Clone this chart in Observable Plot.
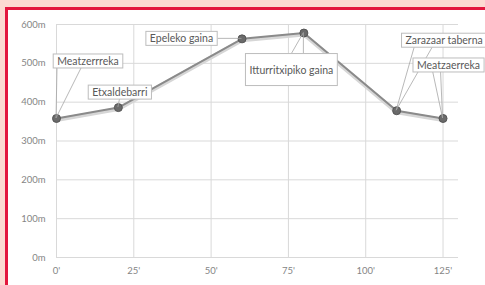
<!DOCTYPE html>
<html><head><meta charset="utf-8">
<script src="https://cdn.jsdelivr.net/npm/d3@7"></script>
<script src="https://cdn.jsdelivr.net/npm/@observablehq/plot@0.6"></script>
<style>
html,body{margin:0;padding:0;background:#fcdad2;}
#wrap{position:relative;width:485px;height:285px;overflow:hidden;background:#fcdad2;}
#panel{position:absolute;left:5px;top:7px;right:-10px;bottom:-10px;background:#fff;border-left:3px solid #e3173e;border-top:3px solid #e3173e;}
#chart{position:absolute;left:0;top:0;}
</style></head>
<body>
<div id="wrap"><div id="panel"></div><div id="chart"></div></div>
<script>
const places = ["Meatzerrreka","Etxaldebarri","Epeleko gaina","Itturritxipiko gaina","Zarazaar taberna","Meatzaerreka"];
const minutes = [0, 20, 60, 80, 110, 125];
const altitude = [358, 386, 563, 578, 378, 358];
const xTicks = [0, 25, 50, 75, 100, 125];
const yTicks = [0, 100, 200, 300, 400, 500, 600];

const data = places.map((p, i) => ({place: p, x: minutes[i], y: altitude[i]}));

// label layout: box centre offset from point (px), leader attach points relative to box centre
const layout = [
  {dx: 32, dy: -57, leads: [[-31, 7], [-7, 7]]},
  {dx: 2, dy: -15, leads: [[0, 5]]},
  {dx: -60, dy: 0, leads: [[36, 0]]},
  {dx: -12, dy: 37, leads: [[0, -16], [12, -16]]},
  {dx: 48, dy: -70, leads: [[-30, 7], [-12, 7]]},
  {dx: 6, dy: -53, leads: [[-16, 6], [-8, 6]]}
];

const chart = Plot.plot({
  width: 485, height: 285,
  marginLeft: 56, marginRight: 27, marginTop: 24, marginBottom: 28,
  style: {background: "transparent", fontFamily: "Lato, sans-serif"},
  x: {domain: [0, 130], ticks: xTicks, tickFormat: d => d + "'"},
  y: {domain: [0, 600], ticks: yTicks, tickFormat: d => d + "m"},
  marks: [
    Plot.ruleY(yTicks, {stroke: "#d9d9d9", strokeWidth: 1}),
    Plot.ruleX(xTicks.concat([0]), {y1: 0, y2: 600, stroke: "#d9d9d9", strokeWidth: 1}),
    Plot.axisX({ticks: xTicks, tickSize: 0, tickPadding: 10, fontSize: 9.5, fill: "#858585", tickFormat: d => d + "'", label: null}),
    Plot.axisY({ticks: yTicks, tickSize: 0, tickPadding: 11, fontSize: 9.5, fill: "#858585", tickFormat: d => d + "m", label: null}),
    Plot.line(data, {x: "x", y: "y", stroke: "#d6d6d6", strokeWidth: 4, dy: 1.5}),
    Plot.line(data, {x: "x", y: "y", stroke: "#8a8a8a", strokeWidth: 2}),
    Plot.dot(data, {x: "x", y: "y", r: 4, fill: "#6a6a6a", stroke: "#555", strokeWidth: 1})
  ]
});
document.getElementById("chart").appendChild(chart);

const sx = chart.scale("x"), sy = chart.scale("y");
const svg = d3.select(chart);
const g = svg.append("g");
data.forEach((d, i) => {
  const px = sx.apply(d.x), py = sy.apply(d.y);
  const L = layout[i];
  const cx = px + L.dx, cy = py + L.dy;
  const lg = g.append("g");
  const t = lg.append("text").attr("x", cx).attr("y", cy).attr("text-anchor", "middle")
    .attr("dominant-baseline", "central").attr("font-family", "Lato, sans-serif")
    .attr("font-size", 10.5).attr("fill", "#595959").text(d.place);
  const bb = t.node().getBBox();
  const w = bb.width + 8, h = i === 3 ? 32 : 14;
  lg.insert("rect", "text").attr("x", cx - w / 2).attr("y", cy - h / 2).attr("width", w).attr("height", h)
    .attr("fill", "#fff").attr("stroke", "#bdbdbd").attr("stroke-width", 1);
  L.leads.forEach(([ax, ay]) => {
    g.insert("line", ":first-child").attr("x1", cx + ax).attr("y1", cy + ay).attr("x2", px).attr("y2", py)
      .attr("stroke", "#a6a6a6").attr("stroke-width", 0.8);
  });
});
</script>
</body></html>
